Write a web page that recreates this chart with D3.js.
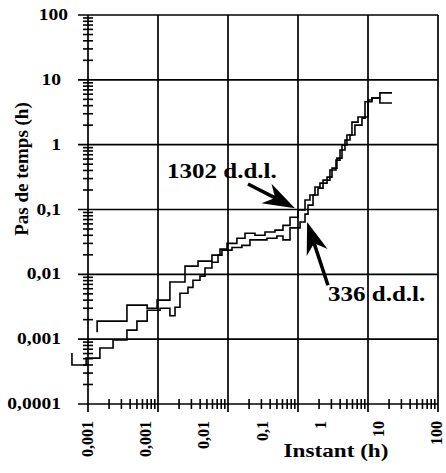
<!DOCTYPE html>
<html><head><meta charset="utf-8">
<script src="https://cdn.jsdelivr.net/npm/d3@7"></script>
<style>body{margin:0;background:#fff} svg{display:block}</style>
</head><body>
<script>
// ---- data ----
const xTickLabels = ["0,001", "0,001", "0,01", "0,1", "1", "10", "100"];
const xGridValues = [0.001, 0.01, 0.1, 1, 10, 100];
const yTickValues = [100, 10, 1, 0.1, 0.01, 0.001, 0.0001];
const yTickLabels = ["100", "10", "1", "0,1", "0,01", "0,001", "0,0001"];

// series "1302 d.d.l." : instant (h) and time step (h), step function
const t1302 = [0.00135, 0.00135, 0.0036, 0.007, 0.0097, 0.0148, 0.0243, 0.0373, 0.059, 0.0769, 0.0968, 0.134, 0.175, 0.243, 0.338, 0.469, 0.61, 0.769, 1.0, 1.26, 1.48, 1.75, 2.06, 2.6, 3.06, 3.6, 4.25, 5.0, 5.9, 7.2, 10, 11.4, 14.8, 22];
const dt1302 = [0.00128, 0.0019, 0.00335, 0.003, 0.004, 0.0076, 0.0134, 0.016, 0.0198, 0.0245, 0.030, 0.036, 0.043, 0.040, 0.045, 0.048, 0.057, 0.076, 0.098, 0.14, 0.167, 0.222, 0.255, 0.316, 0.435, 0.62, 0.99, 1.41, 2.23, 2.67, 4.88, 5.24, 6.3, 6.3];

// series "336 d.d.l."
const t336 = [0.00059, 0.00059, 0.00094, 0.00148, 0.00228, 0.0036, 0.005, 0.007, 0.0107, 0.0148, 0.0175, 0.0206, 0.0268, 0.0316, 0.0398, 0.0469, 0.059, 0.072, 0.082, 0.114, 0.158, 0.206, 0.268, 0.36, 0.5, 0.61, 0.769, 1.07, 1.26, 1.39, 1.64, 1.93, 2.28, 2.86, 3.49, 3.98, 4.69, 5.53, 6.5, 8.2, 9.06, 11.4, 14.8, 22];
const dt336 = [0.00061, 0.0004, 0.00051, 0.00073, 0.00097, 0.00138, 0.0019, 0.0028, 0.003, 0.0023, 0.0031, 0.0051, 0.0063, 0.0081, 0.0094, 0.0125, 0.0154, 0.0198, 0.0236, 0.026, 0.028, 0.034, 0.034, 0.036, 0.039, 0.034, 0.052, 0.064, 0.085, 0.117, 0.167, 0.214, 0.284, 0.406, 0.578, 0.826, 1.18, 1.41, 2.0, 2.57, 4.6, 5.24, 4.39, 4.39];

// annotations (data coordinates)
const annotLabels = ["1302 d.d.l.", "336 d.d.l."];
const annotText = [[0.01345, 0.305], [2.68, 0.00385]];
const annotTail = [[0.193, 0.247], [2.68, 0.0068]];
const annotTip = [[0.906, 0.105], [1.35, 0.064]];

// ---- drawing ----
const W = 446, H = 473;
const svg = d3.select("body").append("svg").attr("width", W).attr("height", H);
const x = d3.scaleLog().domain([0.001, 100]).range([88, 438]);
const y = d3.scaleLog().domain([0.0001, 100]).range([404, 15]);
const xLab = d3.scalePoint().domain(d3.range(xTickLabels.length)).range([88, 437]);
const FONT = "'Liberation Serif', 'Times New Roman', serif";
const SX = 1.22;

// grid
svg.append("g").selectAll("line").data(yTickValues).join("line")
  .attr("x1", 78).attr("x2", x(100)).attr("y1", d => y(d)).attr("y2", d => y(d))
  .attr("stroke", "#000").attr("stroke-width", 1.7);
svg.append("g").selectAll("line").data(xGridValues).join("line")
  .attr("x1", d => x(d)).attr("x2", d => x(d)).attr("y1", y(100)).attr("y2", y(0.0001) + 8)
  .attr("stroke", "#000").attr("stroke-width", 1.7);

// minor ticks
const yMinor = [], xMinor = [];
for (let e = -4; e < 2; e++) for (let k = 2; k < 10; k++) yMinor.push(k * Math.pow(10, e));
for (let e = -3; e < 2; e++) for (let k = 2; k < 10; k++) xMinor.push(k * Math.pow(10, e));
svg.append("g").selectAll("line").data(yMinor).join("line")
  .attr("x1", x(0.001) - 5).attr("x2", x(0.001) + 5).attr("y1", d => y(d)).attr("y2", d => y(d))
  .attr("stroke", "#000").attr("stroke-width", 1.6);
svg.append("g").selectAll("line").data(xMinor).join("line")
  .attr("y1", y(0.0001) - 5).attr("y2", y(0.0001) + 5).attr("x1", d => x(d)).attr("x2", d => x(d))
  .attr("stroke", "#000").attr("stroke-width", 1.6);

// tick labels
svg.append("g").selectAll("text").data(yTickValues).join("text")
  .attr("transform", d => `translate(${d === 100 ? 68 : 61},${y(d) + 5}) scale(${SX},1)`)
  .attr("text-anchor", "end").attr("font-family", FONT).attr("font-weight", "bold")
  .attr("font-size", 16).text((d, i) => yTickLabels[i]);
svg.append("g").selectAll("text").data(xTickLabels).join("text")
  .attr("transform", (d, i) => `translate(${xLab(i) + 5},421) rotate(-90)`)
  .attr("text-anchor", "end").attr("font-family", FONT).attr("font-weight", "bold")
  .attr("font-size", 16).text(d => d);

// axis titles
svg.append("text").attr("transform", "translate(28,169) rotate(-90)")
  .attr("text-anchor", "middle").attr("font-family", FONT).attr("font-weight", "bold")
  .attr("font-size", 19).text("Pas de temps (h)");
svg.append("text").attr("transform", `translate(336,457) scale(${SX},1)`)
  .attr("text-anchor", "middle").attr("font-family", FONT).attr("font-weight", "bold")
  .attr("font-size", 19).text("Instant (h)");

// series
const line = d3.line().x(d => x(d[0])).y(d => y(d[1])).curve(d3.curveStepAfter);
[[t1302, dt1302], [t336, dt336]].forEach(([t, v]) => {
  svg.append("path").datum(t.map((d, i) => [d, v[i]]))
    .attr("d", line).attr("fill", "none").attr("stroke", "#000").attr("stroke-width", 1.6);
});

// annotations
annotLabels.forEach((lab, i) => {
  const [tx, ty] = [x(annotText[i][0]), y(annotText[i][1])];
  svg.append("text").attr("transform", `translate(${tx},${ty}) scale(${SX},1)`)
    .attr("font-family", FONT).attr("font-weight", "bold").attr("font-size", 20.5).text(lab);
  const a = [x(annotTail[i][0]), y(annotTail[i][1])];
  const b = [x(annotTip[i][0]), y(annotTip[i][1])];
  const len = Math.hypot(b[0] - a[0], b[1] - a[1]);
  const u = [(b[0] - a[0]) / len, (b[1] - a[1]) / len];
  const n = [-u[1], u[0]];
  const L = 32, Wd = 11;
  const back = [b[0] - L * u[0], b[1] - L * u[1]];
  const notch = [b[0] - 0.7 * L * u[0], b[1] - 0.7 * L * u[1]];
  svg.append("line").attr("x1", a[0]).attr("y1", a[1]).attr("x2", notch[0]).attr("y2", notch[1])
    .attr("stroke", "#000").attr("stroke-width", 3.5);
  svg.append("path").attr("d", d3.line()([b, [back[0] + Wd * n[0], back[1] + Wd * n[1]], notch,
    [back[0] - Wd * n[0], back[1] - Wd * n[1]]]) + "Z").attr("fill", "#000");
});
</script>
</body></html>
